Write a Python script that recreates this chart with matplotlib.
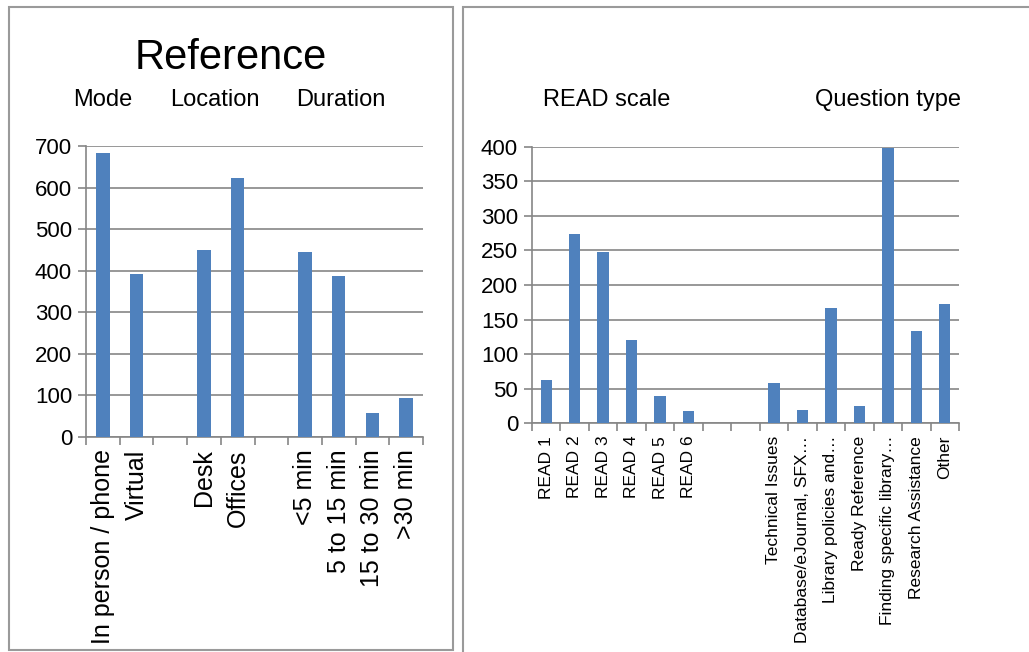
import numpy as np
import matplotlib
matplotlib.use("Agg")
import matplotlib.pyplot as plt
from matplotlib.patches import Rectangle

plt.rcParams['font.family'] = ['Liberation Sans Narrow', 'Liberation Sans', 'DejaVu Sans']

# --- dati pannello sinistro ---
mode_labels = ["In person / phone", "Virtual"]
mode_values = [682, 392]
location_labels = ["Desk", "Offices"]
location_values = [450, 622]
duration_labels = ["<5 min", "5 to 15 min", "15 to 30 min", ">30 min"]
duration_values = [445, 387, 57, 94]

# --- dati pannello destro ---
read_labels = ["READ 1", "READ 2", "READ 3", "READ 4", "READ 5", "READ 6"]
read_values = [63, 274, 247, 120, 40, 18]
qtype_labels = ["Technical Issues", "Database/eJournal, SFX\u2026", "Library policies and\u2026",
                "Ready Reference", "Finding specific library\u2026", "Research Assistance", "Other"]
qtype_values = [58, 19, 167, 25, 398, 134, 173]

W, H = 1029, 652
BAR = '#4F81BD'
GRID = '#868686'
BORDER = '#9a9a9a'


def fx(px):
    return px / W


def fy(py):
    return 1 - py / H


def build(groups, gap):
    labels, values = [], []
    for i, (lab, val) in enumerate(groups):
        if i > 0:
            labels += [''] * gap
            values += [np.nan] * gap
        labels += lab
        values += val
    return labels, np.array(values, dtype=float)


def draw_axes(ax, labels, values, ymax, ystep, xfont, yfont):
    n = len(labels)
    x = np.arange(n)
    ax.bar(x, np.nan_to_num(values), width=0.4, color=BAR, zorder=3)
    ax.set_xlim(-0.5, n - 0.5)
    ax.set_ylim(0, ymax)
    ax.set_yticks(np.arange(0, ymax + 1, ystep))
    ax.yaxis.grid(True, color=GRID, lw=1.2, zorder=0)
    for sp in ['top', 'right']:
        ax.spines[sp].set_visible(False)
    for sp in ['left', 'bottom']:
        ax.spines[sp].set_color(GRID)
        ax.spines[sp].set_linewidth(1.2)
    ax.tick_params(axis='y', length=6, width=1.2, color=GRID, labelsize=yfont, pad=4)
    # tacche ai confini delle categorie
    ax.set_xticks(np.arange(n + 1) - 0.5)
    ax.set_xticklabels([])
    ax.tick_params(axis='x', which='major', length=6, width=1.2, color=GRID)
    ax.set_xticks(x, minor=True)
    ax.set_xticklabels(labels, minor=True, rotation=90, fontsize=xfont, va='top', ha='center')
    ax.tick_params(axis='x', which='minor', length=0, pad=9)


fig = plt.figure(figsize=(W / 100, H / 100), dpi=100)

# bordi dei pannelli
fig.patches.append(Rectangle((fx(9), fy(650)), fx(444), (650 - 7) / H, transform=fig.transFigure,
                             fill=False, edgecolor=BORDER, lw=1.5))
fig.patches.append(Rectangle((fx(463), fy(700)), fx(600), (700 - 7) / H, transform=fig.transFigure,
                             fill=False, edgecolor=BORDER, lw=1.5))

# pannello sinistro
labels_l, values_l = build([(mode_labels, mode_values), (location_labels, location_values),
                            (duration_labels, duration_values)], 1)
ax1 = fig.add_axes([fx(86), fy(437), fx(423 - 86), (437 - 146) / H])
draw_axes(ax1, labels_l, values_l, 700, 100, 18, 16)

# pannello destro
labels_r, values_r = build([(read_labels, read_values), (qtype_labels, qtype_values)], 2)
ax2 = fig.add_axes([fx(532), fy(423.3), fx(959 - 532), (423.3 - 146.7) / H])
draw_axes(ax2, labels_r, values_r, 400, 50, 12.5, 16)

# titoli
fig.text(fx(231), fy(58), "Reference", fontsize=30, ha='center', va='center')
fig.text(fx(103), fy(100), "Mode", fontsize=17, ha='center', va='center')
fig.text(fx(215), fy(100), "Location", fontsize=17, ha='center', va='center')
fig.text(fx(341), fy(100), "Duration", fontsize=17, ha='center', va='center')
fig.text(fx(607), fy(100), "READ scale", fontsize=17, ha='center', va='center')
fig.text(fx(888), fy(100), "Question type", fontsize=17, ha='center', va='center')

fig.savefig("out.png", dpi=100)
